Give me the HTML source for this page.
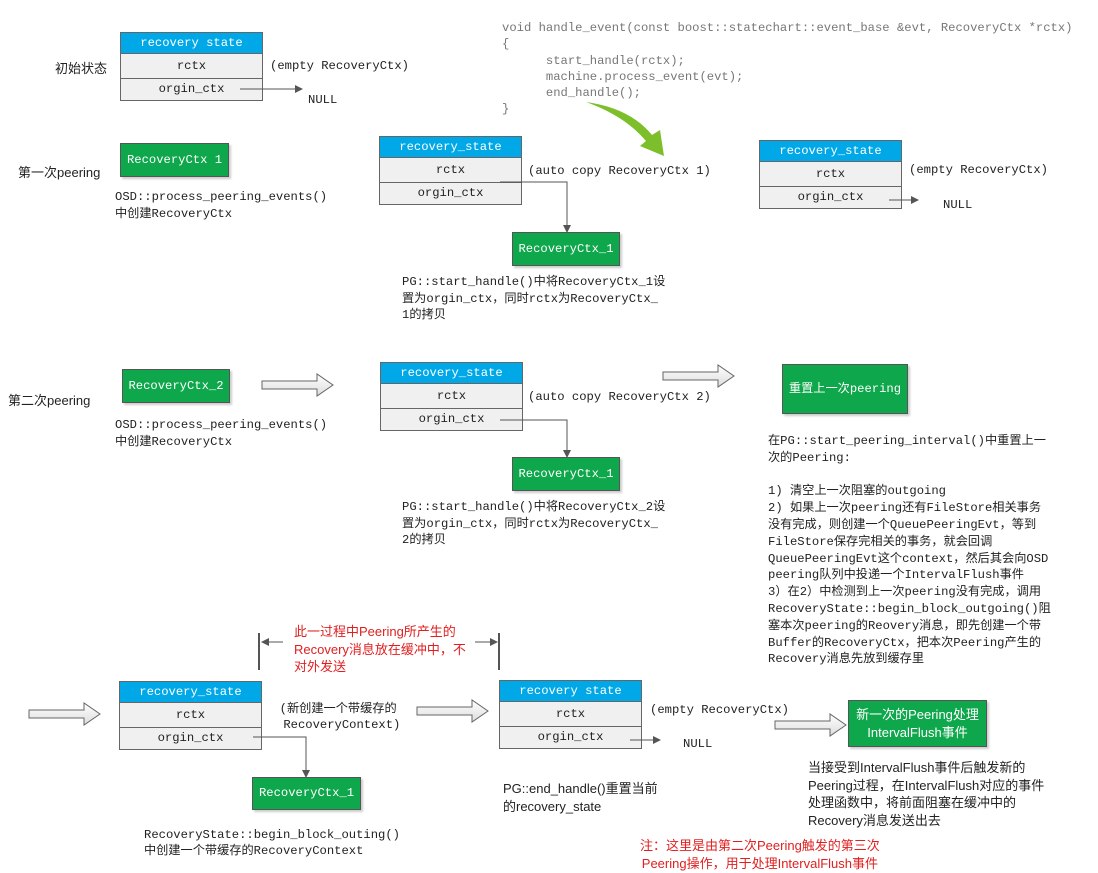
<!DOCTYPE html>
<html><head><meta charset="utf-8"><style>
body{margin:0;width:1098px;height:873px;background:#fff;position:relative;overflow:hidden;font-family:"Liberation Mono","Noto Sans CJK SC",monospace;font-size:12.2px;color:#222}
.a{position:absolute;white-space:pre}
.st{position:absolute;width:143px;border:1px solid #666;box-sizing:border-box}
.st div{text-align:center;box-sizing:border-box}
.h{background:#00a8e8;color:#fff;height:21px;line-height:21px;border-bottom:1px solid #666}
.r1{background:#f0f0f0;height:25px;line-height:25px;border-bottom:1px solid #666}
.r2{background:#f0f0f0;height:21px;line-height:21px}
.g{position:absolute;background:#0ea74b;border:1px solid #555;color:#fff;box-sizing:border-box;text-align:center;box-shadow:2px 2px 2px #ccc}
.sans{font-family:"Liberation Sans","Noto Sans CJK SC",sans-serif;font-size:13px}
.red{color:#e02020}
</style></head><body>

<div class="a" style="left:502px;top:20px;line-height:16.3px;color:#777">void handle_event(const boost::statechart::event_base &amp;evt, RecoveryCtx *rctx)
{
      start_handle(rctx);
      machine.process_event(evt);
      end_handle();
}</div>

<div class="a sans" style="left:55px;top:58px">初始状态</div>
<div class="a sans" style="left:18px;top:162px">第一次peering</div>
<div class="a sans" style="left:8px;top:390px">第二次peering</div>

<div class="st" style="left:120px;top:32px"><div class="h">recovery state</div><div class="r1">rctx</div><div class="r2">orgin_ctx</div></div>
<div class="st" style="left:379px;top:136px"><div class="h">recovery_state</div><div class="r1">rctx</div><div class="r2">orgin_ctx</div></div>
<div class="st" style="left:759px;top:140px"><div class="h">recovery_state</div><div class="r1">rctx</div><div class="r2">orgin_ctx</div></div>
<div class="st" style="left:380px;top:362px"><div class="h">recovery_state</div><div class="r1">rctx</div><div class="r2">orgin_ctx</div></div>
<div class="st" style="left:119px;top:681px"><div class="h">recovery_state</div><div class="r1">rctx</div><div class="r2">orgin_ctx</div></div>
<div class="st" style="left:499px;top:680px"><div class="h">recovery state</div><div class="r1">rctx</div><div class="r2">orgin_ctx</div></div>

<div class="a" style="left:270px;top:59px">(empty RecoveryCtx)</div>
<div class="a" style="left:308px;top:93px">NULL</div>
<div class="a" style="left:528px;top:164px">(auto copy RecoveryCtx 1)</div>
<div class="a" style="left:909px;top:163px">(empty RecoveryCtx)</div>
<div class="a" style="left:943px;top:198px">NULL</div>
<div class="a" style="left:528px;top:390px">(auto copy RecoveryCtx 2)</div>
<div class="a" style="left:276px;top:701px;text-align:center;line-height:16px">(新创建一个带缓存的
 RecoveryContext)</div>
<div class="a" style="left:650px;top:703px">(empty RecoveryCtx)</div>
<div class="a" style="left:683px;top:737px">NULL</div>

<div class="g" style="left:120px;top:143px;width:109px;height:34px;line-height:32px">RecoveryCtx 1</div>
<div class="g" style="left:512px;top:232px;width:108px;height:34px;line-height:32px">RecoveryCtx_1</div>
<div class="g" style="left:122px;top:369px;width:108px;height:34px;line-height:32px">RecoveryCtx_2</div>
<div class="g" style="left:512px;top:457px;width:108px;height:34px;line-height:32px">RecoveryCtx_1</div>
<div class="g" style="left:782px;top:364px;width:126px;height:50px;line-height:48px">重置上一次peering</div>
<div class="g" style="left:252px;top:777px;width:109px;height:33px;line-height:31px">RecoveryCtx_1</div>
<div class="g sans" style="left:848px;top:700px;width:139px;height:47px;line-height:18px;padding-top:5px">新一次的Peering处理<br>IntervalFlush事件</div>

<div class="a" style="left:115px;top:189px;line-height:16.5px">OSD::process_peering_events()
中创建RecoveryCtx</div>
<div class="a" style="left:402px;top:274px;line-height:16.5px">PG::start_handle()中将RecoveryCtx_1设
置为orgin_ctx，同时rctx为RecoveryCtx_
1的拷贝</div>
<div class="a" style="left:115px;top:417px;line-height:16.5px">OSD::process_peering_events()
中创建RecoveryCtx</div>
<div class="a" style="left:402px;top:499px;line-height:16.5px">PG::start_handle()中将RecoveryCtx_2设
置为orgin_ctx，同时rctx为RecoveryCtx_
2的拷贝</div>
<div class="a" style="left:768px;top:433px;line-height:16.8px">在PG::start_peering_interval()中重置上一
次的Peering:

1) 清空上一次阻塞的outgoing
2) 如果上一次peering还有FileStore相关事务
没有完成，则创建一个QueuePeeringEvt，等到
FileStore保存完相关的事务，就会回调
QueuePeeringEvt这个context，然后其会向OSD
peering队列中投递一个IntervalFlush事件
3）在2）中检测到上一次peering没有完成，调用
RecoveryState::begin_block_outgoing()阻
塞本次peering的Reovery消息，即先创建一个带
Buffer的RecoveryCtx，把本次Peering产生的
Recovery消息先放到缓存里</div>
<div class="a" style="left:144px;top:827px;line-height:16px">RecoveryState::begin_block_outing()
中创建一个带缓存的RecoveryContext</div>
<div class="a sans" style="left:503px;top:780px;line-height:18px">PG::end_handle()重置当前
的recovery_state</div>
<div class="a sans" style="left:808px;top:759px;line-height:17.5px">当接受到IntervalFlush事件后触发新的
Peering过程，在IntervalFlush对应的事件
处理函数中，将前面阻塞在缓冲中的
Recovery消息发送出去</div>
<div class="a sans red" style="left:640px;top:837px;line-height:17.5px;text-align:center">注：这里是由第二次Peering触发的第三次
Peering操作，用于处理IntervalFlush事件</div>
<div class="a sans red" style="left:294px;top:623px;line-height:17.5px">此一过程中Peering所产生的
Recovery消息放在缓冲中，不
对外发送</div>

<svg width="1098" height="873" style="position:absolute;left:0;top:0" xmlns="http://www.w3.org/2000/svg">
<defs><marker id="m" markerWidth="8" markerHeight="8" refX="7" refY="4" orient="auto" markerUnits="userSpaceOnUse"><path d="M0,0 L8,4 L0,8z" fill="#555"/></marker>
<linearGradient id="bg" x1="0" y1="0" x2="0" y2="1"><stop offset="0" stop-color="#fff"/><stop offset="1" stop-color="#ddd"/></linearGradient></defs>
<g stroke="#555" stroke-width="1" fill="none">
<line x1="240" y1="89" x2="302" y2="89" marker-end="url(#m)"/>
<polyline points="500,182 567,182 567,232" marker-end="url(#m)"/>
<line x1="889" y1="200" x2="918" y2="200" marker-end="url(#m)"/>
<polyline points="500,420 567,420 567,457" marker-end="url(#m)"/>
<polyline points="253,737 306,737 306,777" marker-end="url(#m)"/>
<line x1="630" y1="740" x2="660" y2="740" marker-end="url(#m)"/>
<line x1="259" y1="633" x2="259" y2="670" stroke-width="2"/>
<line x1="499" y1="633" x2="499" y2="670" stroke-width="2"/>
<line x1="283" y1="642" x2="262" y2="642" marker-end="url(#m)"/>
<line x1="475" y1="642" x2="497" y2="642" marker-end="url(#m)"/>
</g>
<g stroke="#666" fill="url(#bg)">
<path d="M262,381 h55 v-7 l16,11 l-16,11 v-7 h-55z"/>
<path d="M663,372 h55 v-7 l16,11 l-16,11 v-7 h-55z"/>
<path d="M29,710 h55 v-7 l16,11 l-16,11 v-7 h-55z"/>
<path d="M417,707 h55 v-7 l16,11 l-16,11 v-7 h-55z"/>
<path d="M775,721 h55 v-7 l16,11 l-16,11 v-7 h-55z"/>
</g>
<path d="M586,102 Q630,108 652,135 L660,130 L664,156 L640,146 L646,141 Q625,116 586,102z" fill="#7cbf2a"/>
</svg>
</body></html>
